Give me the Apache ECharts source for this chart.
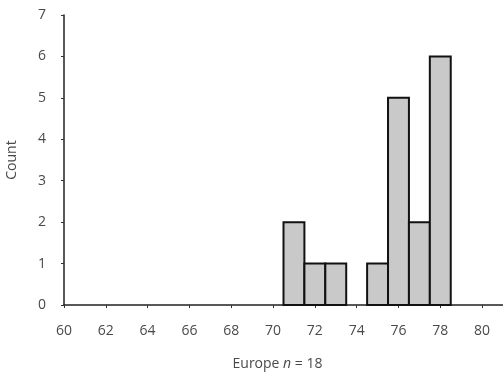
<!DOCTYPE html>
<html><head><meta charset="utf-8">
<script src="https://cdn.jsdelivr.net/npm/echarts@6/dist/echarts.min.js"></script>
<style>html,body{margin:0;padding:0;background:#fff}#c{width:503px;height:373px}</style>
</head><body><div id="c"></div>
<script>
var binCenters = [71, 72, 73, 75, 76, 77, 78];
var counts = [2, 1, 1, 1, 5, 2, 6];
var binWidth = 1;
var xTitle = 'Europe';
var nLabel = 'n = 18';
var yTitle = 'Count';

var data = binCenters.map(function (c, i) { return [c, counts[i]]; });
var chart = echarts.init(document.getElementById('c'), null, {renderer: 'canvas'});
var font = 'Open Sans';
var fs = 14;
var col = '#4a4a4a';
chart.setOption({
  animation: false,
  grid: {left: 64, right: 0, top: 15, bottom: 68, containLabel: false, outerBoundsMode: 'none'},
  xAxis: {
    type: 'value', min: 60, max: 81, interval: 2,
    splitLine: {show: false},
    axisLine: {lineStyle: {color: '#222', width: 1.5}},
    axisTick: {length: 3, lineStyle: {color: '#333'}},
    axisLabel: {color: col, fontFamily: font, fontSize: fs, margin: 19, showMaxLabel: false,
      formatter: function (v) { return v === 81 ? '' : v; }},
    name: '{a|' + xTitle + ' }{b|' + nLabel.split(' ')[0] + '}{a| ' + nLabel.split(' ').slice(1).join(' ') + '}',
    nameLocation: 'middle', nameGap: 52,
    nameTextStyle: {padding: [0, 12, 0, 0], rich: {
      a: {fontFamily: font, fontSize: fs, color: col},
      b: {fontFamily: font, fontSize: fs, color: col, fontStyle: 'italic'}
    }}
  },
  yAxis: {
    type: 'value', min: 0, max: 7, interval: 1,
    splitLine: {show: false},
    axisLine: {show: true, lineStyle: {color: '#222', width: 1.5}},
    axisTick: {show: true, length: 3, lineStyle: {color: '#333'}},
    axisLabel: {color: col, fontFamily: font, fontSize: fs, margin: 18},
    name: yTitle, nameLocation: 'middle', nameGap: 45, nameRotate: 90,
    nameTextStyle: {fontFamily: font, fontSize: fs, color: col}
  },
  series: [{
    type: 'custom',
    data: data,
    encode: {x: 0, y: 1},
    renderItem: function (params, api) {
      var c = api.value(0), v = api.value(1);
      var p0 = api.coord([c - binWidth / 2, 0]);
      var p1 = api.coord([c + binWidth / 2, v]);
      return {
        type: 'rect',
        shape: {x: p0[0], y: p1[1], width: p1[0] - p0[0], height: p0[1] - p1[1]},
        style: {fill: '#c9c9c9', stroke: '#111', lineWidth: 2}
      };
    }
  }]
});
</script></body></html>
